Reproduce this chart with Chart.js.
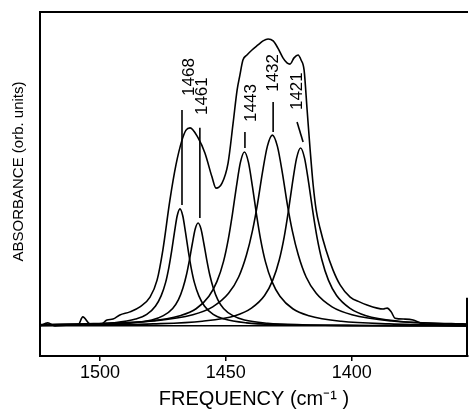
<!DOCTYPE html>
<html>
<head>
<meta charset="utf-8">
<script src="https://cdn.jsdelivr.net/npm/chart.js@4"></script>
<style>
html,body{margin:0;padding:0;background:#fff;}
#wrap{width:470px;height:409px;}
</style>
</head>
<body>
<div id="wrap"><canvas id="c" width="470" height="409"></canvas></div>
<script>
// ---- data ----
const xTicks = [1500, 1450, 1400];
const xTitle = 'FREQUENCY (cm\u207B\u00B9 )';
const yTitle = 'ABSORBANCE (orb. units)';
const peakNames = ['1468', '1461', '1443', '1432', '1421'];

// measured spectrum (envelope)
const envFreq = [1523.8,1520.7,1517.9,1511.9,1508.7,1506.8,1504.0,1500,1497.2,1494.8,1492.1,1488.1,1484.1,1480.1,1477.3,1475.0,1472.2,1469.8,1467.4,1465.8,1464.2,1461.0,1458.3,1455.5,1453.9,1451.5,1449.1,1447.1,1445.5,1444.4,1443.2,1441.6,1439.6,1437.2,1435.2,1433.2,1431.2,1429.3,1427.3,1425.7,1424.5,1422.9,1421.3,1420.1,1418.9,1417.7,1416.5,1415.3,1414.1,1412.6,1410.2,1407.4,1404.6,1400.6,1396.7,1393.9,1389.9,1387.5,1385.9,1384.3,1382.8,1378.8,1375.6,1372.8,1368.8,1353.8];
const envAbs  = [0,0.010,0,0.003,0.003,0.029,0.006,0.003,0.019,0.022,0.035,0.045,0.061,0.092,0.146,0.242,0.401,0.513,0.592,0.624,0.631,0.599,0.551,0.475,0.439,0.455,0.519,0.646,0.752,0.799,0.847,0.863,0.879,0.895,0.908,0.914,0.908,0.885,0.854,0.838,0.834,0.854,0.863,0.847,0.815,0.688,0.561,0.449,0.369,0.312,0.242,0.178,0.131,0.092,0.076,0.067,0.057,0.054,0.057,0.045,0.025,0.022,0.019,0.010,0.003,0];

// fitted components
const p1468Freq = [1354,1380.2,1406.6,1428.6,1441.8,1450.6,1455.0,1458.5,1460.7,1462.5,1463.8,1464.9,1466.0,1467.1,1468.2,1469.3,1470.4,1471.5,1472.6,1473.9,1475.7,1477.9,1481.4,1485.8,1494.6,1507.8,1524];
const p1468Abs  = [0.0006,0.0009,0.0019,0.0046,0.010,0.022,0.037,0.064,0.096,0.139,0.187,0.239,0.298,0.351,0.373,0.351,0.298,0.239,0.187,0.139,0.096,0.064,0.037,0.022,0.010,0.0046,0.0023];

const p1461Freq = [1354,1369.0,1396.6,1419.6,1433.4,1442.6,1447.2,1450.9,1453.2,1455.0,1456.4,1457.55,1458.7,1459.85,1461.0,1462.15,1463.3,1464.45,1465.6,1467.0,1468.8,1471.1,1474.8,1479.4,1488.6,1502.4,1524];
const p1461Abs  = [0.0006,0.0008,0.0017,0.0040,0.0089,0.019,0.033,0.056,0.084,0.122,0.164,0.210,0.262,0.309,0.328,0.309,0.262,0.210,0.164,0.122,0.084,0.056,0.033,0.019,0.0089,0.0040,0.0017];

const p1443Freq = [1354,1385.0,1404.2,1417.0,1423.4,1428.5,1431.7,1434.3,1436.2,1437.8,1439.4,1441.0,1442.6,1444.2,1445.8,1447.4,1449.0,1450.9,1453.5,1456.7,1461.8,1468.2,1481.0,1500.2,1524];
const p1443Abs  = [0.0029,0.0068,0.015,0.033,0.055,0.095,0.142,0.206,0.277,0.355,0.443,0.521,0.554,0.521,0.443,0.355,0.277,0.206,0.142,0.095,0.055,0.033,0.015,0.0068,0.0034];

const p1432Freq = [1354,1360.4,1384.1,1399.9,1407.8,1414.1,1418.1,1421.2,1423.6,1425.6,1427.5,1429.5,1431.5,1433.5,1435.5,1437.4,1439.4,1441.8,1444.9,1448.9,1455.2,1463.1,1478.9,1502.6,1524];
const p1432Abs  = [0.0063,0.0075,0.016,0.036,0.061,0.104,0.156,0.226,0.304,0.389,0.486,0.572,0.608,0.572,0.486,0.389,0.304,0.226,0.156,0.104,0.061,0.036,0.016,0.0075,0.0044];

const p1421Freq = [1354,1361.8,1381.3,1394.3,1400.8,1406.0,1409.25,1411.85,1413.8,1415.4,1417.05,1418.7,1420.3,1421.9,1423.55,1425.2,1426.8,1428.75,1431.35,1434.6,1439.8,1446.3,1459.3,1478.8,1524];
const p1421Abs  = [0.0054,0.0069,0.0153,0.033,0.057,0.097,0.146,0.211,0.284,0.363,0.454,0.534,0.567,0.534,0.454,0.363,0.284,0.211,0.146,0.097,0.057,0.033,0.0153,0.0069,0.0022];

// ---- build ----
const pts = (fx, ay) => fx.map((f, i) => ({x: f, y: ay[i]}));
const series = [
  [envFreq, envAbs], [p1468Freq, p1468Abs], [p1461Freq, p1461Abs],
  [p1443Freq, p1443Abs], [p1432Freq, p1432Abs], [p1421Freq, p1421Abs]
];
const FONT = '"Liberation Sans", Arial, Helvetica, sans-serif';

// marker annotation geometry (data units): line from (f1,v1) to (f2,v2), label centre (lf,lv)
const markers = [
  {f1:1467.4, v1:0.688, f2:1467.4, v2:0.385, lf:1465.0, lv:0.793},
  {f1:1460.3, v1:0.631, f2:1460.3, v2:0.344, lf:1459.7, lv:0.732},
  {f1:1442.4, v1:0.618, f2:1442.4, v2:0.567, lf:1440.4, lv:0.710},
  {f1:1431.2, v1:0.713, f2:1431.2, v2:0.618, lf:1431.6, lv:0.806},
  {f1:1421.7, v1:0.650, f2:1419.3, v2:0.586, lf:1421.9, lv:0.748}
];

const framePlugin = {
  id: 'frame',
  afterDraw(chart) {
    const {ctx, chartArea: a, scales: {x, y}} = chart;
    ctx.save();
    ctx.strokeStyle = '#000';
    ctx.lineWidth = 2;
    ctx.beginPath();
    ctx.moveTo(a.left, a.top); ctx.lineTo(a.right, a.top);
    ctx.moveTo(a.right - 1, y.getPixelForValue(0.09)); ctx.lineTo(a.right - 1, a.bottom);
    ctx.stroke();
    ctx.lineWidth = 1.6;
    markers.forEach((m, i) => {
      ctx.beginPath();
      ctx.moveTo(x.getPixelForValue(m.f1), y.getPixelForValue(m.v1));
      ctx.lineTo(x.getPixelForValue(m.f2), y.getPixelForValue(m.v2));
      ctx.stroke();
      ctx.save();
      ctx.translate(x.getPixelForValue(m.lf), y.getPixelForValue(m.lv));
      ctx.rotate(-Math.PI / 2);
      ctx.fillStyle = '#000';
      ctx.font = '17px ' + FONT;
      ctx.textAlign = 'center';
      ctx.textBaseline = 'middle';
      ctx.fillText(peakNames[i], 0, 1);
      ctx.restore();
    });
    ctx.restore();
  }
};

new Chart(document.getElementById('c'), {
  type: 'line',
  data: {
    datasets: series.map(s => ({
      data: pts(s[0], s[1]),
      borderColor: '#000',
      borderWidth: 1.6,
      pointRadius: 0,
      fill: false,
      cubicInterpolationMode: 'monotone'
    }))
  },
  options: {
    responsive: false,
    animation: false,
    events: [],
    layout: {padding: {top: 12, right: 2, left: 0, bottom: 0}},
    plugins: {legend: {display: false}, tooltip: {enabled: false}},
    scales: {
      x: {
        type: 'linear',
        reverse: true,
        min: 1353.8,
        max: 1523.8,
        afterBuildTicks: s => { s.ticks = xTicks.map(v => ({value: v})); },
        afterFit: s => { s.height = 53; },
        ticks: {color: '#000', font: {family: FONT, size: 18}, padding: 1, maxRotation: 0, callback: v => String(v)},
        grid: {display: true, drawOnChartArea: false, drawTicks: true, tickLength: 5, color: '#000', lineWidth: 1.5},
        border: {display: true, color: '#000', width: 2},
        title: {display: true, text: xTitle, color: '#000', font: {family: FONT, size: 20, lineHeight: 1}, padding: {top: 0, bottom: 0}}
      },
      y: {
        type: 'linear',
        min: -0.0955,
        max: 1.0,
        afterBuildTicks: s => { s.ticks = [{value: 0}]; },
        afterFit: s => { s.width = 40; },
        ticks: {display: false},
        grid: {display: true, drawTicks: false, color: '#000', lineWidth: 1.5},
        border: {display: true, color: '#000', width: 2},
        title: {display: true, text: '      ' + yTitle, color: '#000', font: {family: FONT, size: 15, lineHeight: 1.2}, padding: {top: 10, bottom: 0}}
      }
    }
  },
  plugins: [framePlugin]
});
</script>
</body>
</html>
